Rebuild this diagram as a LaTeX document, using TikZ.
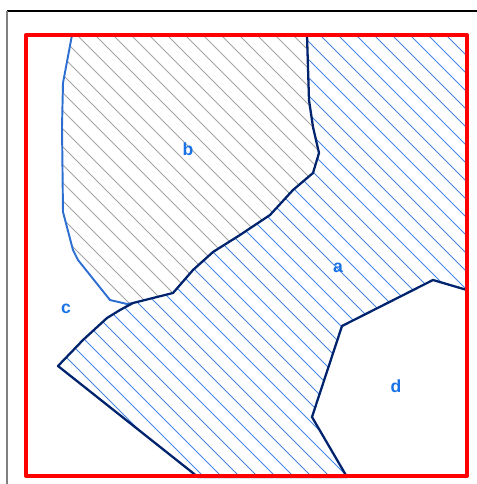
\documentclass[tikz,border=0pt]{standalone}
\usepackage{fontspec}
\setmainfont{Liberation Sans}
\usepackage{tikz}
\usetikzlibrary{calc}
\definecolor{mapred}{RGB}{255, 0, 0}
\definecolor{mapdark}{RGB}{0, 35, 110}
\definecolor{mapedge}{RGB}{45, 110, 210}
\definecolor{maphatch}{RGB}{70, 135, 230}
\definecolor{mapgray}{RGB}{165, 165, 165}
\definecolor{maplabel}{RGB}{25, 115, 230}
\tikzset{
  boundary/.style={draw=mapred, line width=2.3pt, line join=round},
  zoneA/.style={draw=mapdark, line width=1.3pt, line join=round},
  zoneB/.style={draw=mapedge, line width=1.1pt, line join=round},
  hatchA/.style={draw=maphatch, line width=0.5pt},
  hatchB/.style={draw=mapgray, line width=0.5pt},
  zonelabel/.style={font=\fontsize{10}{12}\selectfont\bfseries, text=maplabel, inner sep=0pt},
}
\begin{document}
\begin{tikzpicture}[x=0.02cm, y=-0.02cm]
  \useasboundingbox (0,0) rectangle (477,484);
  % sheet edges
  \draw[black, line width=0.6pt] (7,11) -- (477,11);
  \draw[black!50, line width=0.6pt] (7,11) -- (7,484);

  % zone b
  \begin{scope}
    \clip (72,35) -- (307,35) -- (309,100) -- (313,127) -- (319,153) -- (313,173)
      -- (293,190) -- (270,215) -- (240,235) -- (213,252) -- (193,270) -- (173,293)
      -- (145,300) -- (133,303) -- (127,304) -- (110,300) -- (78,260) -- (73,250)
      -- (63,212) -- (62,127) -- (63,83) -- cycle;
    \foreach \k in {-504,-486,...,480}
      \draw[hatchB] (\k+6,0) -- ++(500,500);
  \end{scope}
  \draw[zoneB] (307,35) -- (72,35) -- (63,83) -- (62,127) -- (63,212) -- (73,250)
    -- (78,260) -- (110,300) -- (127,304) -- (133,303);

  % zone a
  \begin{scope}
    \clip (307,35) -- (467,35) -- (467,290) -- (433,280) -- (342,326) -- (312,417)
      -- (347,477) -- (198,477) -- (58,366) -- (83,340) -- (107,318) -- (120,310)
      -- (133,303) -- (145,300) -- (173,293) -- (193,270) -- (213,252) -- (240,235)
      -- (270,215) -- (293,190) -- (313,173) -- (319,153) -- (313,127) -- (309,100)
      -- cycle;
    \foreach \k in {-504,-486,...,480}
      \draw[hatchA] (\k-3,0) -- ++(500,500);
  \end{scope}
  \draw[zoneA] (307,35) -- (467,35) -- (467,290) -- (433,280) -- (342,326) -- (312,417)
    -- (347,477) -- (198,477) -- (58,366) -- (83,340) -- (107,318) -- (120,310)
    -- (133,303) -- (145,300) -- (173,293) -- (193,270) -- (213,252) -- (240,235)
    -- (270,215) -- (293,190) -- (313,173) -- (319,153) -- (313,127) -- (309,100)
    -- cycle;

  % outer boundary
  \draw[boundary] (26,35) rectangle (467,476);

  % labels
  \node[zonelabel] (la) at (338,268) {a};
  \node[zonelabel] (lb) at (188,149) {b};
  \node[zonelabel] (lc) at (66,309) {c};
  \node[zonelabel] (ld) at (396,386) {d};
\end{tikzpicture}
\end{document}
